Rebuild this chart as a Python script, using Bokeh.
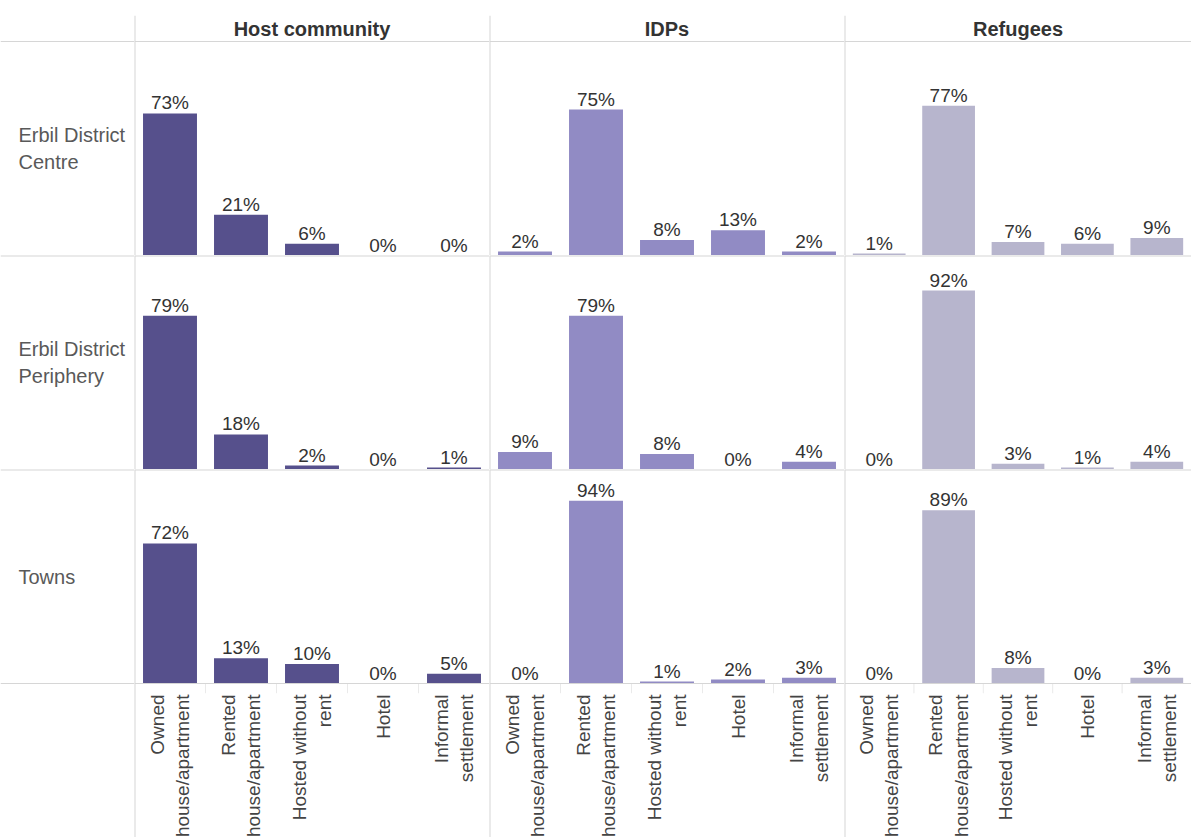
import math
from bokeh.plotting import figure
from bokeh.layouts import gridplot
from bokeh.models import ColumnDataSource, FactorRange, Range1d, Span, BoxAnnotation
from bokeh.embed import file_html
from bokeh.resources import INLINE
from bokeh.core.properties import value

# ---- data ----
categories = ["Owned\nhouse/apartment", "Rented\nhouse/apartment",
              "Hosted without\nrent", "Hotel", "Informal\nsettlement"]
groups = ["Host community", "IDPs", "Refugees"]
locations = ["Erbil District\nCentre", "Erbil District\nPeriphery", "Towns"]

host_centre = [73, 21, 6, 0, 0]
host_periphery = [79, 18, 2, 0, 1]
host_towns = [72, 13, 10, 0, 5]

idp_centre = [2, 75, 8, 13, 2]
idp_periphery = [9, 79, 8, 0, 4]
idp_towns = [0, 94, 1, 2, 3]

ref_centre = [1, 77, 7, 6, 9]
ref_periphery = [0, 92, 3, 1, 4]
ref_towns = [0, 89, 8, 0, 3]

table = [
    [host_centre, idp_centre, ref_centre],
    [host_periphery, idp_periphery, ref_periphery],
    [host_towns, idp_towns, ref_towns],
]
group_colors = ["#56508C", "#918BC4", "#B7B5CD"]

# ---- style / layout ----
FONT = "Liberation Sans"
GRID = "#d6d6d6"
FRAME_H = 214          # pixel height of one row of bars
Y_MAX = 110            # value range of one row
PX_PER_UNIT = FRAME_H / Y_MAX
HEADER_H = 26          # header band above the first row
AXIS_H = 160           # band below the last row for category labels
TOP_PAD = 15
PANEL_WS = [355, 355, 347]
LABEL_W = 134

HEADER_U = HEADER_H / PX_PER_UNIT
AXIS_U = AXIS_H / PX_PER_UNIT


def row_geometry(r):
    y0, y1, h = 0.0, float(Y_MAX), FRAME_H
    if r == 0:
        y1 += HEADER_U
        h += HEADER_H
    if r == len(locations) - 1:
        y0 -= AXIS_U
        h += AXIS_H
    return y0, y1, h


def hspan(p, y, w=1):
    p.add_layout(Span(location=y, dimension="width", line_color=GRID, line_width=w))


def row_lines(p, r):
    if r == 0:
        hspan(p, Y_MAX)          # line under the header band
    else:
        hspan(p, Y_MAX, 2)       # separator with the row above (frame edge)
    if r == len(locations) - 1:
        hspan(p, 0)              # baseline of the last row


grid_rows = []
for r, loc in enumerate(locations):
    y0, y1, h = row_geometry(r)
    row = []
    lab = figure(frame_width=LABEL_W, frame_height=h,
                 x_range=Range1d(0, LABEL_W), y_range=Range1d(y0, y1),
                 toolbar_location=None, output_backend="svg",
                 x_axis_location=None, y_axis_location=None,
                 min_border=0, outline_line_color=None)
    lab.grid.visible = False
    if r == 0:
        lab.min_border_top = TOP_PAD
    row_lines(lab, r)
    lab.text(x=[18], y=[Y_MAX / 2], text=[loc], text_align="left",
             text_baseline="middle", text_font=value(FONT),
             text_font_size="20px", text_color="#595959",
             text_line_height=1.25)
    row.append(lab)

    for c, grp in enumerate(groups):
        vals = table[r][c]
        src = ColumnDataSource(dict(
            cat=categories, val=vals, lbl=[f"{v}%" for v in vals]))
        p = figure(x_range=FactorRange(*categories, range_padding=0),
                   y_range=Range1d(y0, y1),
                   frame_width=PANEL_WS[c], frame_height=h,
                   toolbar_location=None, output_backend="svg",
                   min_border=0, y_axis_location=None,
                   x_axis_location="below" if r == 2 else None,
                   outline_line_color=None)
        p.grid.visible = False
        # panel left border (runs through header / axis bands too)
        p.add_layout(Span(location=0, dimension="height",
                          line_color=GRID, line_width=2))
        row_lines(p, r)
        if r == 0:
            p.min_border_top = TOP_PAD
            p.text(x=[categories[2]], y=[Y_MAX + HEADER_U / 2], text=[grp],
                   text_align="center", text_baseline="middle",
                   text_font=value(FONT), text_font_size="20px",
                   text_font_style="bold", text_color="#333333")
        p.vbar(x="cat", top="val", width=0.76, source=src,
               fill_color=group_colors[c], line_color=None)
        p.text(x="cat", y="val", text="lbl", source=src,
               text_align="center", text_baseline="bottom",
               text_font=value(FONT), text_font_size="19px",
               text_color="#333333")
        if r == 2:
            ax = p.xaxis[0]
            ax.fixed_location = 0
            ax.major_label_orientation = math.pi / 2
            ax.major_label_text_font = FONT
            ax.major_label_text_font_size = "19px"
            ax.major_label_text_color = "#444444"
            ax.axis_line_color = None
            ax.major_tick_line_color = None
            ax.major_label_standoff = 5
            for k in range(1, len(categories)):
                p.add_layout(BoxAnnotation(left=k, right=k, bottom=-5, top=0,
                                           fill_alpha=0, line_color=GRID,
                                           line_width=1))
        row.append(p)
    grid_rows.append(row)

layout = gridplot(grid_rows, toolbar_location=None)

open("out.html", "w").write(file_html(layout, INLINE))
